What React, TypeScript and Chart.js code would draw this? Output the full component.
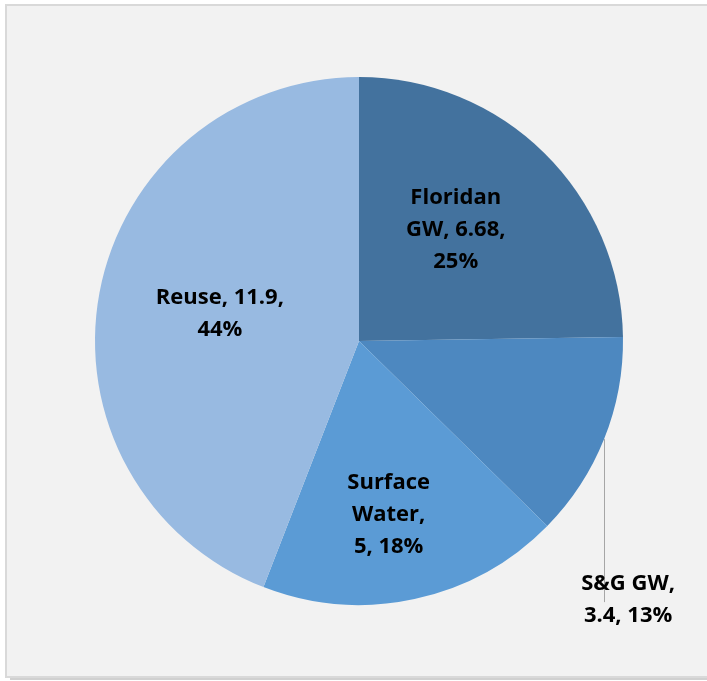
import React, { useEffect, useRef } from "react";
import { Chart, registerables } from "chart.js";
Chart.register(...registerables);

const categories = ["Floridan GW", "S&G GW", "Surface Water", "Reuse"];
const values = [6.68, 3.4, 5, 11.9];
const percentLabels = ["25%", "13%", "18%", "44%"];
const labelLines = [
  ["Floridan", "GW, 6.68,", "25%"],
  ["S&G GW,", "3.4, 13%"],
  ["Surface", "Water,", "5, 18%"],
  ["Reuse, 11.9,", "44%"],
];
const sliceColors = ["#43729E", "#4D88C0", "#5B9BD5", "#98BAE1"];

// label placement (layout only)
const placement = [
  { mode: "in", r: 0.56, dx: -7, dy: -6 },
  { mode: "out", dx: 24, dy: 161 },
  { mode: "in", r: 0.66, dx: -7, dy: 3 },
  { mode: "in", r: 0.54, dx: 1, dy: -1 },
];

const W = 707;
const H = 681;

const framePlugin = {
  id: "frame",
  beforeDraw(chart: any) {
    const ctx = chart.ctx;
    ctx.save();
    ctx.fillStyle = "#ffffff";
    ctx.fillRect(0, 0, W, H);
    ctx.fillStyle = "#d0d0d0";
    ctx.fillRect(10, 677, W, 3);
    ctx.fillStyle = "#f2f2f2";
    ctx.fillRect(7, 6, W, 671);
    ctx.strokeStyle = "#d9d9d9";
    ctx.lineWidth = 2;
    ctx.strokeRect(6, 5, W + 10, 672);
    ctx.restore();
  },
};

const labelPlugin = {
  id: "sliceLabels",
  afterDatasetsDraw(chart: any) {
    const ctx = chart.ctx;
    const meta = chart.getDatasetMeta(0);
    ctx.save();
    ctx.font = "bold 22px 'Open Sans'";
    ctx.textAlign = "center";
    ctx.textBaseline = "middle";
    const lh = 32;
    meta.data.forEach((arc: any, i: number) => {
      const p = arc.getProps(["x", "y", "startAngle", "endAngle", "outerRadius"], true);
      const mid = (p.startAngle + p.endAngle) / 2;
      const pl: any = placement[i];
      const lines = labelLines[i];
      let cx: number, cy: number;
      if (pl.mode === "in") {
        cx = p.x + Math.cos(mid) * p.outerRadius * pl.r + pl.dx;
        cy = p.y + Math.sin(mid) * p.outerRadius * pl.r + pl.dy;
      } else {
        const ex = p.x + Math.cos(mid) * p.outerRadius;
        const ey = p.y + Math.sin(mid) * p.outerRadius;
        cx = ex + pl.dx;
        cy = ey + pl.dy;
        ctx.strokeStyle = "#a6a6a6";
        ctx.lineWidth = 1;
        ctx.beginPath();
        ctx.moveTo(Math.round(ex) + 0.5, ey);
        ctx.lineTo(Math.round(ex) + 0.5, cy + 2);
        ctx.stroke();
      }
      ctx.fillStyle = "#000000";
      const top = cy - ((lines.length - 1) * lh) / 2;
      lines.forEach((t, k) => ctx.fillText(t, cx, top + k * lh));
    });
    ctx.restore();
  },
};

export default function App() {
  const ref = useRef<HTMLCanvasElement | null>(null);
  useEffect(() => {
    if (!ref.current) return;
    const chart = new Chart(ref.current, {
      type: "pie",
      data: {
        labels: categories.map((c, i) => `${c} (${percentLabels[i]})`),
        datasets: [
          {
            data: values,
            backgroundColor: sliceColors,
            borderWidth: 0,
          },
        ],
      },
      options: {
        responsive: false,
        animation: false,
        layout: { padding: { left: 95, right: 84, top: 77, bottom: 76 } },
        plugins: {
          legend: { display: false },
          tooltip: { enabled: false },
        },
      },
      plugins: [framePlugin, labelPlugin],
    });
    return () => chart.destroy();
  }, []);
  return (
    <div style={{ position: "absolute", left: 0, top: 0, width: W, height: H }}>
      <canvas ref={ref} width={W} height={H} style={{ display: "block", width: W, height: H }} />
    </div>
  );
}
